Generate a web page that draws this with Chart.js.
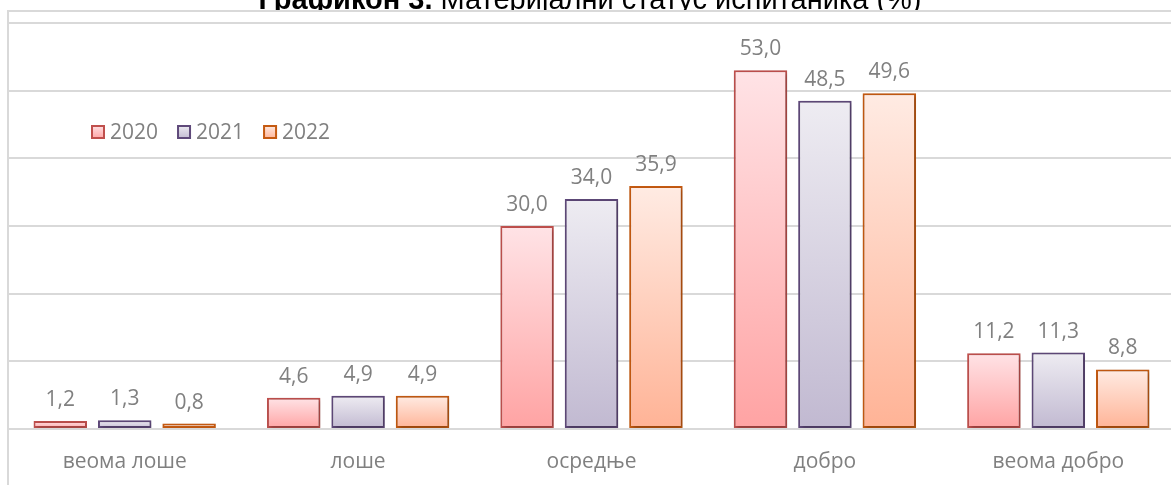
<!DOCTYPE html>
<html>
<head>
<meta charset="utf-8">
<script src="https://cdn.jsdelivr.net/npm/chart.js@4/dist/chart.umd.min.js"></script>
<style>
  html, body { margin: 0; padding: 0; background: #fff; overflow: hidden; }
  #wrap { width: 1175px; height: 485px; position: relative; }
</style>
</head>
<body>
<div id="wrap"><canvas id="grafikon"></canvas></div>
<script>
const categories = ['веома лоше', 'лоше', 'осредње', 'добро', 'веома добро'];
const years = ['2020', '2021', '2022'];
const values2020 = [1.2, 4.6, 30.0, 53.0, 11.2];
const values2021 = [1.3, 4.9, 34.0, 48.5, 11.3];
const values2022 = [0.8, 4.9, 35.9, 49.6, 8.8];
const yTicks = [0, 10, 20, 30, 40, 50, 60];

const titleBold = 'Графикон 3.';
const titleRest = ' Материјални статус испитаника (%)';

const gray = '#808080';
const font = '"Open Sans", "Noto Sans", sans-serif';
const titleFont = '29px "Liberation Sans", Arial, sans-serif';

// boja ivice, vrh i dno gradijenta za svaku godinu
let styles = [
  { border: '#c0504d', top: '#ffe3e6', bottom: '#ffa3a3' },
  { border: '#5f497a', top: '#eeecf2', bottom: '#c1b9d1' },
  { border: '#c55a11', top: '#ffebe3', bottom: '#ffb396' }
];

let barFill = (top, bottom) => ctx => {
  let chart = ctx.chart;
  if (!chart.chartArea || ctx.type !== 'data') return bottom;
  let y = chart.scales.y;
  let g = chart.ctx.createLinearGradient(0, y.getPixelForValue(ctx.raw), 0, y.getPixelForValue(0));
  g.addColorStop(0, top);
  g.addColorStop(1, bottom);
  return g;
};

let okvir = {
  id: 'okvir',
  beforeDraw: chart => {
    let c = chart.ctx;
    let w = chart.width;
    c.save();
    c.fillStyle = '#fff';
    c.fillRect(0, 0, w, chart.height);
    c.fillStyle = '#000';
    c.textBaseline = 'alphabetic';
    c.font = 'bold ' + titleFont;
    let w1 = c.measureText(titleBold).width;
    c.font = titleFont;
    let w2 = c.measureText(titleRest).width;
    let x0 = 590 - (w1 + w2) / 2;
    c.font = 'bold ' + titleFont;
    c.fillText(titleBold, x0, 9);
    c.font = titleFont;
    c.fillText(titleRest, x0 + w1, 9);
    c.fillStyle = '#fff';
    c.fillRect(0, 10, w, chart.height);
    c.strokeStyle = '#d9d9d9';
    c.lineWidth = 2;
    c.beginPath();
    c.moveTo(8, chart.height);
    c.lineTo(8, 11);
    c.lineTo(w, 11);
    c.stroke();
    c.restore();
  }
};

let vrednosti = {
  id: 'vrednosti',
  beforeDatasetsDraw: chart => {
    let c = chart.ctx;
    c.save();
    c.shadowColor = 'rgba(0,0,0,0.28)';
    c.shadowBlur = 4;
    c.shadowOffsetX = 1.5;
    c.shadowOffsetY = 1.5;
  },
  afterDatasetsDraw: chart => {
    let c = chart.ctx;
    c.restore();
    c.save();
    c.fillStyle = gray;
    c.font = '21px ' + font;
    c.textAlign = 'center';
    c.textBaseline = 'alphabetic';
    chart.data.datasets.forEach((ds, i) => {
      chart.getDatasetMeta(i).data.forEach((bar, j) => {
        c.fillText(ds.data[j].toFixed(1).replace('.', ','), bar.x, bar.y - 15);
      });
    });

    // legenda
    c.textAlign = 'left';
    c.textBaseline = 'middle';
    let x = 91;
    let y = 132;
    chart.data.datasets.forEach((ds, i) => {
      let s = styles[i];
      let g = c.createLinearGradient(0, y - 7, 0, y + 7);
      g.addColorStop(0, s.top);
      g.addColorStop(1, s.bottom);
      c.fillStyle = g;
      c.fillRect(x, y - 7, 14, 14);
      c.strokeStyle = s.border;
      c.lineWidth = 2;
      c.strokeRect(x + 1, y - 6, 12, 12);
      c.fillStyle = gray;
      c.fillText(ds.label, x + 19, y + 1);
      x += 19 + c.measureText(ds.label).width + 19;
    });
    c.restore();
  }
};

let allValues = [values2020, values2021, values2022];

new Chart(document.getElementById('grafikon'), {
  type: 'bar',
  data: {
    labels: categories,
    datasets: years.map((god, i) => ({
      label: god,
      data: allValues[i],
      backgroundColor: barFill(styles[i].top, styles[i].bottom),
      borderColor: styles[i].border,
      borderWidth: 2,
      borderSkipped: false,
      categoryPercentage: 0.828,
      barPercentage: 0.83
    }))
  },
  options: {
    responsive: true,
    maintainAspectRatio: false,
    animation: false,
    layout: { padding: { left: 8, top: 23, right: 0, bottom: 0 } },
    plugins: {
      legend: { display: false },
      tooltip: { enabled: false },
      title: { display: false }
    },
    scales: {
      x: {
        grid: { display: false, drawTicks: false },
        border: { display: false },
        ticks: { color: gray, font: { family: font, size: 21 }, padding: 20 },
        afterFit: s => { s.height = 56; }
      },
      y: {
        min: yTicks[0],
        max: yTicks[yTicks.length - 1],
        afterBuildTicks: s => { s.ticks = yTicks.map(v => ({ value: v })); },
        ticks: { display: false },
        grid: { color: '#d9d9d9', lineWidth: 2, drawTicks: false },
        border: { display: false },
        afterFit: s => { s.width = 0; }
      }
    }
  },
  plugins: [okvir, vrednosti]
});
</script>
</body>
</html>
